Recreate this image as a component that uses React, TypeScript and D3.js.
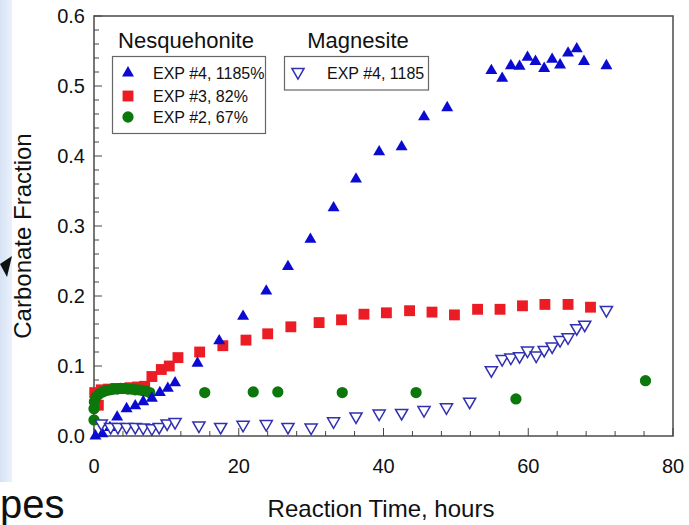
import React from "react";
import * as d3 from "d3";

const W = 689;
const H = 525;

// Nesquehonite EXP #4, 1185%
const nesq4Time = [0.2, 1.15, 2.2, 3.2, 4.5, 5.7, 6.8, 8.0, 9.1, 10.2, 11.2, 14.3, 17.3, 20.6, 23.8, 26.8, 29.9, 33.1, 36.2, 39.4, 42.5, 45.6, 48.8, 54.9, 56.4, 57.6, 58.8, 59.9, 61.0, 62.2, 63.3, 64.4, 65.5, 66.7, 67.7, 70.8];
const nesq4Value = [0.0, 0.003, 0.012, 0.027, 0.039, 0.043, 0.049, 0.054, 0.062, 0.068, 0.076, 0.104, 0.136, 0.171, 0.207, 0.242, 0.281, 0.326, 0.367, 0.406, 0.413, 0.456, 0.469, 0.522, 0.511, 0.529, 0.528, 0.541, 0.535, 0.525, 0.538, 0.53, 0.547, 0.553, 0.535, 0.529];

// Nesquehonite EXP #3, 82%
const nesq3Time = [0.1, 0.6, 1.0, 2.0, 3.0, 4.0, 5.0, 6.0, 7.0, 8.0, 9.3, 10.4, 11.6, 14.6, 17.8, 21.0, 24.0, 27.2, 31.1, 34.2, 37.3, 40.4, 43.6, 46.7, 49.8, 53.0, 56.1, 59.2, 62.3, 65.5, 68.6];
const nesq3Value = [0.062, 0.044, 0.066, 0.067, 0.068, 0.068, 0.069, 0.07, 0.071, 0.085, 0.095, 0.1, 0.112, 0.12, 0.129, 0.137, 0.146, 0.156, 0.162, 0.166, 0.174, 0.176, 0.179, 0.177, 0.173, 0.181, 0.181, 0.186, 0.188, 0.188, 0.184];

// Nesquehonite EXP #2, 67%
const nesq2Time = [0.0, 0.0, 0.05, 0.3, 0.7, 1.2, 1.7, 2.2, 2.7, 3.2, 3.7, 4.2, 4.7, 5.2, 5.7, 6.2, 6.7, 7.2, 7.7, 15.3, 22.0, 25.4, 34.3, 44.5, 58.3, 76.2];
const nesq2Value = [0.023, 0.039, 0.049, 0.056, 0.06, 0.063, 0.065, 0.066, 0.067, 0.067, 0.068, 0.068, 0.067, 0.067, 0.066, 0.066, 0.065, 0.064, 0.062, 0.062, 0.063, 0.063, 0.062, 0.062, 0.053, 0.079];

// Magnesite EXP #4, 1185
const magTime = [1.0, 2.3, 3.3, 4.5, 5.7, 6.8, 8.0, 9.0, 10.1, 11.2, 14.5, 17.5, 20.6, 23.8, 26.8, 30.0, 33.1, 36.2, 39.4, 42.5, 45.6, 48.7, 51.9, 54.9, 56.4, 57.6, 58.8, 59.9, 61.1, 62.2, 63.3, 64.4, 65.5, 66.7, 67.8, 70.8];
const magValue = [0.018, 0.013, 0.013, 0.013, 0.013, 0.012, 0.011, 0.013, 0.018, 0.02, 0.015, 0.013, 0.016, 0.017, 0.013, 0.012, 0.021, 0.028, 0.032, 0.033, 0.037, 0.041, 0.049, 0.094, 0.11, 0.112, 0.114, 0.122, 0.115, 0.123, 0.128, 0.137, 0.141, 0.154, 0.159, 0.18];

const xTicks = [0, 20, 40, 60, 80];
const yTicks = [0, 0.1, 0.2, 0.3, 0.4, 0.5, 0.6];

const BLUE = "#0a0ad2";
const RED = "#ec1c24";
const GREEN = "#0c780c";
const NAVY = "#3030b0";
const FONT = "'Liberation Sans', Arial, sans-serif";

export default function App() {
  const x = d3.scaleLinear().domain([0, 80]).range([94, 673]);
  const y = d3.scaleLinear().domain([0, 0.6]).range([436, 16]);

  const tri = d3.symbol().type(d3.symbolTriangle).size(62)() as string;
  const sq = d3.symbol().type(d3.symbolSquare).size(118)() as string;
  const circ = d3.symbol().type(d3.symbolCircle).size(100)() as string;
  const triDown = d3.symbol().type(d3.symbolTriangle).size(64)() as string;

  const minorX = d3.range(0, 80.001, 4);
  const minorY = d3.range(0, 0.6001, 0.02);

  return (
    <svg width={W} height={H} style={{ position: "absolute", left: 0, top: 0, background: "#fff" }}>
      <defs>
        <linearGradient id="strip" x1="0" x2="1" y1="0" y2="0">
          <stop offset="0" stopColor="#d6e2f4" />
          <stop offset="1" stopColor="#eaf1fb" />
        </linearGradient>
      </defs>
      <rect x={0} y={0} width={W} height={H} fill="#fff" />
      <rect x={0} y={0} width={12} height={482} fill="url(#strip)" />
      <polygon points="0,264 12,256 7,277" fill="#111" />
      <text x={0} y={518} fontFamily={FONT} fontSize={40} fill="#111">pes</text>

      {/* frame */}
      <rect x={94} y={16} width={579} height={420} fill="none" stroke="#555" strokeWidth={1.6} />

      {/* ticks */}
      {minorX.map((t) => {
        const major = Math.abs(t % 20) < 1e-6;
        return (
          <line key={"xt" + t} x1={x(t)} x2={x(t)} y1={436} y2={436 - (major ? 8 : 5)} stroke="#444" strokeWidth={1} />
        );
      })}
      {minorY.map((v, i) => {
        const major = i % 5 === 0;
        return (
          <line key={"yt" + i} x1={94} x2={94 + (major ? 8 : 5)} y1={y(v)} y2={y(v)} stroke="#444" strokeWidth={1} />
        );
      })}
      {xTicks.map((t) => (
        <text key={"xl" + t} x={x(t)} y={473} textAnchor="middle" fontFamily={FONT} fontSize={20} fill="#111">
          {t}
        </text>
      ))}
      {yTicks.map((v) => (
        <text key={"yl" + v} x={85} y={y(v) + 7} textAnchor="end" fontFamily={FONT} fontSize={20} fill="#111">
          {v.toFixed(1)}
        </text>
      ))}
      <text x={381} y={517} textAnchor="middle" fontFamily={FONT} fontSize={24} fill="#111">
        Reaction Time, hours
      </text>
      <text transform="translate(31,236) rotate(-90)" textAnchor="middle" fontFamily={FONT} fontSize={24} fill="#111">
        Carbonate Fraction
      </text>

      {/* data */}
      {nesq3Time.map((t, i) => (
        <path key={"r" + i} d={sq} transform={`translate(${x(t)},${y(nesq3Value[i])})`} fill={RED} />
      ))}
      {nesq2Time.map((t, i) => (
        <path key={"g" + i} d={circ} transform={`translate(${x(t)},${y(nesq2Value[i])})`} fill={GREEN} />
      ))}
      {nesq4Time.map((t, i) => (
        <path key={"b" + i} d={tri} transform={`translate(${x(t)},${y(nesq4Value[i])})`} fill={BLUE} />
      ))}
      {magTime.map((t, i) => (
        <path key={"m" + i} d={triDown} transform={`translate(${x(t)},${y(magValue[i])}) rotate(180)`} fill="#fff" stroke={NAVY} strokeWidth={1.5} />
      ))}

      {/* legends */}
      <text x={186} y={48} textAnchor="middle" fontFamily={FONT} fontSize={22} fill="#111">Nesquehonite</text>
      <rect x={112.5} y={56.5} width={153} height={77} fill="#fff" stroke="#666" strokeWidth={1.2} />
      <path d={tri} transform="translate(128,73)" fill={BLUE} />
      <text x={153} y={79} fontFamily={FONT} fontSize={16} fill="#111">EXP #4, 1185%</text>
      <path d={sq} transform="translate(128,96)" fill={RED} />
      <text x={153} y={102} fontFamily={FONT} fontSize={16} fill="#111">EXP #3, 82%</text>
      <path d={circ} transform="translate(128,117)" fill={GREEN} />
      <text x={153} y={123} fontFamily={FONT} fontSize={16} fill="#111">EXP #2, 67%</text>

      <text x={358} y={48} textAnchor="middle" fontFamily={FONT} fontSize={22} fill="#111">Magnesite</text>
      <rect x={284.5} y={56.5} width={144} height={33.5} fill="#fff" stroke="#666" strokeWidth={1.2} />
      <path d={triDown} transform="translate(298,72) rotate(180)" fill="#fff" stroke={NAVY} strokeWidth={1.5} />
      <text x={327} y={79} fontFamily={FONT} fontSize={16} fill="#111">EXP #4, 1185</text>
    </svg>
  );
}
